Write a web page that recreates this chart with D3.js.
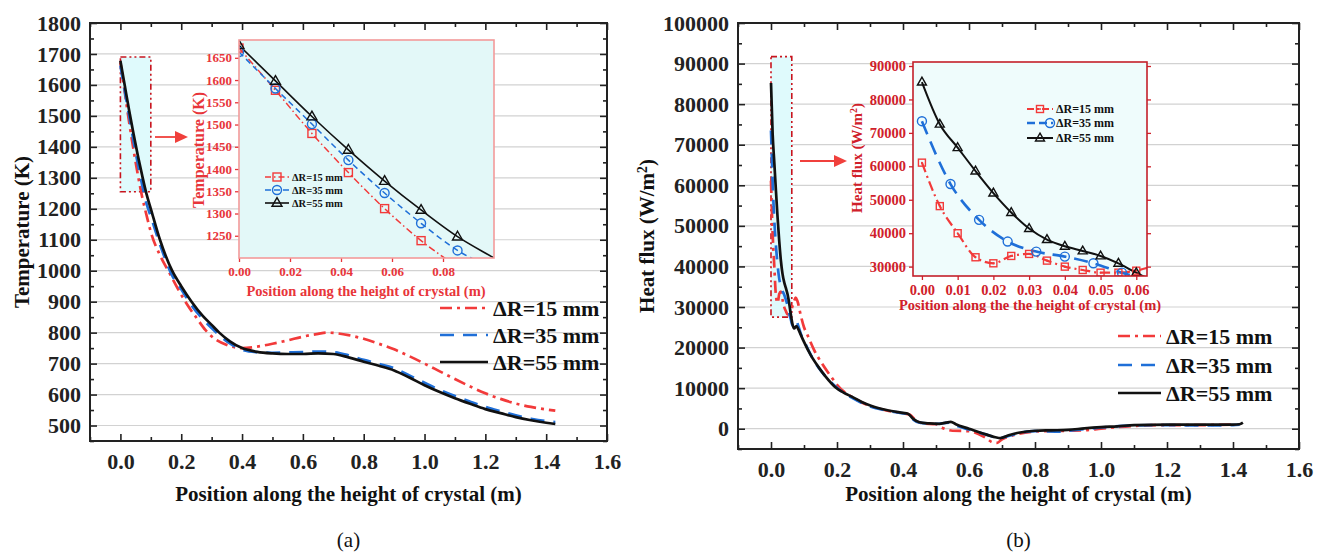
<!DOCTYPE html>
<html><head><meta charset="utf-8">
<script src="https://cdn.jsdelivr.net/npm/d3@7"></script>
<style>
body{margin:0;background:#fff;}
svg{display:block;}
svg text{font-family:'Liberation Serif','Times New Roman','DejaVu Serif',serif;}
</style></head><body>
<svg id="c" width="1324" height="553"></svg>
<script>
// ---------------- DATA ----------------
// (a) Temperature vs position
const seriesNames = ["ΔR=15 mm", "ΔR=35 mm", "ΔR=55 mm"];
const posT15 = [0,0.0143,0.0286,0.0429,0.0571,0.0714,0.0857,0.1,0.13,0.16,0.19,0.22,0.25,0.28,0.31,0.35,0.4,0.45,0.5,0.55,0.6,0.65,0.68,0.7,0.75,0.8,0.85,0.9,0.95,1.0,1.05,1.1,1.15,1.2,1.25,1.3,1.35,1.4,1.43];
const temp15 = [1672,1577,1480,1392,1311,1239,1180,1125,1050,995,940,890,848,808,780,760,750,755,764,775,787,796,800,799,792,780,764,746,724,700,675,650,626,604,586,571,560,552,548];
const posT35 = [0,0.0143,0.0286,0.0429,0.0571,0.0714,0.0857,0.1,0.13,0.17,0.2,0.234,0.27,0.3,0.325,0.36,0.4,0.45,0.5,0.55,0.6,0.65,0.7,0.75,0.8,0.85,0.9,0.95,1.0,1.05,1.1,1.15,1.2,1.25,1.3,1.35,1.4,1.43];
const temp35 = [1663,1581,1501,1420,1346,1278,1217,1175,1085,985,940,888,845,815,792,765,745,737,735,736,737,739,737,727,712,699,685,662,638,615,595,577,560,546,533,522,514,511];
const posT55 = [0,0.0143,0.0286,0.0429,0.0571,0.0714,0.0857,0.1,0.13,0.17,0.2,0.234,0.27,0.3,0.325,0.36,0.4,0.45,0.5,0.55,0.6,0.65,0.7,0.75,0.8,0.85,0.9,0.95,1.0,1.05,1.1,1.15,1.2,1.25,1.3,1.35,1.4,1.43];
const temp55 = [1678,1598,1518,1443,1373,1308,1248,1200,1100,1000,950,900,855,825,800,772,750,738,733,731,731,733,731,720,706,693,678,655,630,608,588,570,553,540,527,517,509,505];
const insetTMarkCount = [7,7,7];

// (b) Heat flux vs position
const posQ15 = [0,0.005,0.01,0.015,0.02,0.025,0.03,0.035,0.04,0.045,0.05,0.055,0.06,0.065,0.07,0.075,0.08,0.09,0.1,0.11,0.13,0.155,0.185,0.2,0.25,0.3,0.35,0.4,0.42,0.44,0.46,0.5,0.52,0.55,0.6,0.65,0.67,0.685,0.7,0.73,0.8,0.9,0.95,1.0,1.1,1.2,1.3,1.4];
const flux15 = [61100,48100,40000,32800,31000,33200,33800,31800,30000,29000,28200,28200,28800,30200,31500,32300,31500,28000,25000,23200,19500,16000,12500,10800,7600,5600,4500,3800,3500,2000,1300,1100,200,-500,-600,-2200,-3300,-3500,-2600,-1700,-700,-500,-400,0,700,900,900,1000];
const posQ35 = [0,0.008,0.016,0.024,0.032,0.04,0.048,0.056,0.06,0.065,0.07,0.076,0.082,0.09,0.1,0.12,0.14,0.16,0.18,0.2,0.25,0.3,0.35,0.4,0.415,0.43,0.45,0.5,0.54,0.56,0.6,0.65,0.69,0.72,0.75,0.8,0.88,0.9,0.95,1.0,1.1,1.2,1.3,1.4,1.42];
const flux35 = [73500,54700,44000,37500,34500,33000,31000,28200,27000,25500,25800,26800,25500,23500,21700,18300,15500,13400,11600,10100,7400,5500,4500,3800,3600,2300,1500,1200,1500,800,-200,-1400,-2300,-1800,-1100,-600,-700,-500,-100,300,800,900,800,900,1000];
const posQ55 = [0,0.005,0.01,0.015,0.02,0.025,0.03,0.035,0.04,0.045,0.05,0.055,0.06,0.065,0.07,0.077,0.083,0.09,0.1,0.12,0.143,0.165,0.194,0.22,0.245,0.275,0.305,0.35,0.4,0.415,0.43,0.45,0.48,0.51,0.53,0.545,0.56,0.6,0.64,0.68,0.695,0.72,0.75,0.8,0.85,0.9,0.95,1.0,1.05,1.1,1.2,1.3,1.4,1.42,1.43];
const flux55 = [85200,72600,65600,58600,52000,46200,41400,38100,36100,34700,33200,31000,28200,25800,24700,25300,24500,23200,21400,18200,15300,12900,10300,8900,7900,6600,5600,4600,3900,3700,2500,1600,1300,1200,1500,1700,1100,0,-1100,-2100,-2300,-1600,-1000,-500,-400,-300,100,400,600,900,1000,1000,1000,1100,1500];
const insetQMarkCount = [13,8,13];

// tick values
const mainXTicks = [0,0.2,0.4,0.6,0.8,1.0,1.2,1.4,1.6];
const mainXMinor = [-0.1,0.1,0.3,0.5,0.7,0.9,1.1,1.3,1.5];
const tempTicks = [500,600,700,800,900,1000,1100,1200,1300,1400,1500,1600,1700,1800];
const tempMinor = [450,550,650,750,850,950,1050,1150,1250,1350,1450,1550,1650,1750];
const fluxTicks = [0,10000,20000,30000,40000,50000,60000,70000,80000,90000,100000];
const fluxMinor = [-5000,5000,15000,25000,35000,45000,55000,65000,75000,85000,95000];
const insetTXTicks = [0,0.02,0.04,0.06,0.08];
const insetTYTicks = [1250,1300,1350,1400,1450,1500,1550,1600,1650];
const insetQXTicks = [0,0.01,0.02,0.03,0.04,0.05,0.06];
const insetQYTicks = [30000,40000,50000,60000,70000,80000,90000];

// ---------------- DRAW ----------------
const FONT = "'Liberation Serif','Times New Roman','DejaVu Serif',serif";
const svg = d3.select('#c');
const colors = ["#f23a3a", "#1f6fd8", "#111111"];
const mainDash = ["12,5,3,5", "14,9", null];

function zip(xs, ys){ return xs.map((x,i)=>({x:x, y:ys[i]})); }

function txt(sel){ return sel.style('font-family', FONT); }

function styleAxis(g, size, color, sw){
  g.attr('font-family', null);
  g.select('.domain').remove();
  g.selectAll('.tick line').attr('stroke', color).attr('stroke-width', sw);
  g.selectAll('.tick text').attr('fill', color).style('font-family', FONT)
    .style('font-weight','bold').style('font-size', size+'px');
}

function mainChart(cfg){
  const g = svg.append('g');
  const x = d3.scaleLinear().domain(cfg.xDom).range([cfg.px[0], cfg.px[1]]);
  const y = d3.scaleLinear().domain(cfg.yDom).range([cfg.py[1], cfg.py[0]]);
  const clipId = 'clip'+cfg.id;
  svg.append('defs').append('clipPath').attr('id', clipId).append('rect')
    .attr('x', cfg.px[0]).attr('y', cfg.py[0]).attr('width', cfg.px[1]-cfg.px[0]).attr('height', cfg.py[1]-cfg.py[0]);
  g.append('g').selectAll('line').data(cfg.yTicks).join('line')
    .attr('x1', cfg.px[0]).attr('x2', cfg.px[1]).attr('y1', d=>y(d)).attr('y2', d=>y(d))
    .attr('stroke', '#d2d2d2').attr('stroke-width', 1.2);
  const zb = cfg.zoomBox;
  g.append('rect').attr('x', x(zb.x[0])).attr('y', y(zb.y[1]))
    .attr('width', x(zb.x[1])-x(zb.x[0])).attr('height', y(zb.y[0])-y(zb.y[1]))
    .attr('fill', '#dffafc').attr('stroke', '#c8141e').attr('stroke-width', 1.6)
    .attr('stroke-dasharray', '6,3,2,3,2,3');
  const lg = g.append('g').attr('clip-path', `url(#${clipId})`);
  const line = d3.line().x(d=>x(d.x)).y(d=>y(d.y)).curve(d3.curveMonotoneX);
  cfg.series.forEach((s,i)=>{
    lg.append('path').datum(s).attr('d', line).attr('fill','none')
      .attr('stroke', colors[i]).attr('stroke-width', 2.7)
      .attr('stroke-dasharray', mainDash[i]);
  });
  const tc = '#222';
  const fx = d3.format('.1f');
  g.append('g').attr('transform', `translate(0,${cfg.py[1]})`)
    .call(d3.axisBottom(x).tickValues(cfg.xTicks).tickSize(-7).tickPadding(12).tickFormat(fx))
    .call(a=>styleAxis(a, 22, tc, 1.6));
  g.append('g').attr('transform', `translate(0,${cfg.py[1]})`)
    .call(d3.axisBottom(x).tickValues(cfg.xMinor).tickSize(-4).tickFormat(''))
    .call(a=>styleAxis(a, 22, tc, 1.6));
  g.append('g').attr('transform', `translate(0,${cfg.py[0]})`)
    .call(d3.axisTop(x).tickValues(cfg.xTicks).tickSize(-7).tickFormat(''))
    .call(a=>styleAxis(a, 22, tc, 1.6));
  g.append('g').attr('transform', `translate(0,${cfg.py[0]})`)
    .call(d3.axisTop(x).tickValues(cfg.xMinor).tickSize(-4).tickFormat(''))
    .call(a=>styleAxis(a, 22, tc, 1.6));
  g.append('g').attr('transform', `translate(${cfg.px[0]},0)`)
    .call(d3.axisLeft(y).tickValues(cfg.yTicks).tickSize(-7).tickPadding(9).tickFormat(d3.format('d')))
    .call(a=>styleAxis(a, 22, tc, 1.6));
  g.append('g').attr('transform', `translate(${cfg.px[0]},0)`)
    .call(d3.axisLeft(y).tickValues(cfg.yMinor).tickSize(-4).tickFormat(''))
    .call(a=>styleAxis(a, 22, tc, 1.6));
  g.append('g').attr('transform', `translate(${cfg.px[1]},0)`)
    .call(d3.axisRight(y).tickValues(cfg.yTicks).tickSize(-7).tickFormat(''))
    .call(a=>styleAxis(a, 22, tc, 1.6));
  g.append('g').attr('transform', `translate(${cfg.px[1]},0)`)
    .call(d3.axisRight(y).tickValues(cfg.yMinor).tickSize(-4).tickFormat(''))
    .call(a=>styleAxis(a, 22, tc, 1.6));
  g.append('rect').attr('x', cfg.px[0]).attr('y', cfg.py[0])
    .attr('width', cfg.px[1]-cfg.px[0]).attr('height', cfg.py[1]-cfg.py[0])
    .attr('fill','none').attr('stroke', '#222').attr('stroke-width', 2);
  txt(g.append('text')).attr('x', (cfg.px[0]+cfg.px[1])/2).attr('y', 494).attr('dy','0.35em')
    .attr('text-anchor','middle').style('font-weight','bold')
    .style('font-size','21px').attr('fill','#111').text('Position along the height of crystal (m)');
  const yt = txt(g.append('text')).attr('transform', `translate(${cfg.yTitleX},${(cfg.py[0]+cfg.py[1])/2}) rotate(-90)`)
    .attr('dy','0.35em').attr('text-anchor','middle').style('font-weight','bold')
    .style('font-size','21px').attr('fill','#111');
  cfg.yTitle(yt);
  txt(g.append('text')).attr('x', (cfg.px[0]+cfg.px[1])/2).attr('y', 540).attr('dy','0.35em')
    .attr('text-anchor','middle').style('font-size','21px').attr('fill','#111').text(cfg.caption);
  const ar = cfg.arrow;
  g.append('line').attr('x1', ar[0]).attr('x2', ar[1]-10).attr('y1', ar[2]).attr('y2', ar[2])
    .attr('stroke', '#f0403c').attr('stroke-width', 1.8);
  g.append('path').attr('d', `M${ar[1]},${ar[2]} L${ar[1]-13},${ar[2]-6} L${ar[1]-13},${ar[2]+6} Z`).attr('fill','#f0403c');
  const L = cfg.legend;
  seriesNames.forEach((n,i)=>{
    const yy = L.y[i];
    g.append('line').attr('x1', L.x1).attr('x2', L.x2).attr('y1', yy).attr('y2', yy)
      .attr('stroke', colors[i]).attr('stroke-width', 2.7).attr('stroke-dasharray', mainDash[i]);
    txt(g.append('text')).attr('x', L.tx).attr('y', yy).attr('dy','0.35em')
      .style('font-weight','bold').style('font-size','22px').attr('fill','#111').text(n);
  });
  return {x,y};
}

function marker(g, type, cx, cy, col, sz, sw){
  if(type==='square'){
    g.append('rect').attr('x', cx-sz/2).attr('y', cy-sz/2).attr('width', sz).attr('height', sz)
      .attr('fill','none').attr('stroke', col).attr('stroke-width', sw);
  } else if(type==='dsquare'){
    g.append('rect').attr('x', cx-sz/2).attr('y', cy-sz/2).attr('width', sz).attr('height', sz)
      .attr('fill','none').attr('stroke', col).attr('stroke-width', sw);
    g.append('circle').attr('cx',cx).attr('cy',cy).attr('r',1).attr('fill',col);
  } else if(type==='circle'){
    g.append('circle').attr('cx',cx).attr('cy',cy).attr('r', sz/2).attr('fill','none')
      .attr('stroke', col).attr('stroke-width', sw);
  } else {
    const h = sz*0.87;
    g.append('path').attr('d', `M${cx},${cy-h*0.62} L${cx+sz/2},${cy+h*0.38} L${cx-sz/2},${cy+h*0.38} Z`)
      .attr('fill','none').attr('stroke', col).attr('stroke-width', sw);
  }
}

function inset(cfg){
  const g = svg.append('g');
  const x = d3.scaleLinear().domain(cfg.xDom).range([cfg.px[0], cfg.px[1]]);
  const y = d3.scaleLinear().domain(cfg.yDom).range([cfg.py[1], cfg.py[0]]);
  const clipId = 'clip'+cfg.id;
  svg.append('defs').append('clipPath').attr('id', clipId).append('rect')
    .attr('x', cfg.px[0]).attr('y', cfg.py[0]).attr('width', cfg.px[1]-cfg.px[0]).attr('height', cfg.py[1]-cfg.py[0]);
  g.append('rect').attr('x', cfg.px[0]).attr('y', cfg.py[0])
    .attr('width', cfg.px[1]-cfg.px[0]).attr('height', cfg.py[1]-cfg.py[0])
    .attr('fill', cfg.bg);
  const lg = g.append('g').attr('clip-path', `url(#${clipId})`);
  const line = d3.line().x(d=>x(d.x)).y(d=>y(d.y)).curve(d3.curveMonotoneX);
  cfg.series.forEach((s,i)=>{
    lg.append('path').datum(s).attr('d', line).attr('fill','none')
      .attr('stroke', colors[i]).attr('stroke-width', cfg.lw[i]).attr('stroke-dasharray', cfg.dash[i]);
  });
  const mg = g.append('g').attr('clip-path', `url(#${clipId})`);
  cfg.series.forEach((s,i)=>{
    s.slice(0, cfg.markCount[i]).forEach(d=>{
      marker(mg, cfg.markers[i], x(d.x), y(d.y), colors[i], cfg.msz[i], 1.4);
    });
  });
  const tc = cfg.textColor;
  g.append('g').attr('transform', `translate(0,${cfg.py[1]})`)
    .call(d3.axisBottom(x).tickValues(cfg.xTicks).tickSize(4).tickPadding(5).tickFormat(d3.format(cfg.xFmt)))
    .call(a=>styleAxis(a, cfg.tickSize, tc, 1.3));
  g.append('g').attr('transform', `translate(${cfg.px[0]},0)`)
    .call(d3.axisLeft(y).tickValues(cfg.yTicks).tickSize(4).tickPadding(3).tickFormat(d3.format('d')))
    .call(a=>styleAxis(a, cfg.tickSize, tc, 1.3));
  if(cfg.rightTicks){
    g.append('g').attr('transform', `translate(${cfg.px[1]},0)`)
      .call(d3.axisRight(y).tickValues(cfg.yTicks).tickSize(4).tickFormat(''))
      .call(a=>styleAxis(a, cfg.tickSize, tc, 1.3));
  }
  g.append('rect').attr('x', cfg.px[0]).attr('y', cfg.py[0])
    .attr('width', cfg.px[1]-cfg.px[0]).attr('height', cfg.py[1]-cfg.py[0])
    .attr('fill','none').attr('stroke', cfg.frame).attr('stroke-width', 1.6);
  txt(g.append('text')).attr('x', cfg.xTitlePos[0]).attr('y', cfg.xTitlePos[1]).attr('dy','0.35em')
    .attr('text-anchor','middle').style('font-weight','bold')
    .style('font-size', cfg.xTitleSize+'px').attr('fill', tc).text(cfg.xTitle);
  const yt = txt(g.append('text')).attr('transform', `translate(${cfg.yTitlePos[0]},${cfg.yTitlePos[1]}) rotate(-90)`)
    .attr('dy','0.35em').attr('text-anchor','middle').style('font-weight','bold')
    .style('font-size', cfg.yTitleSize+'px').attr('fill', tc);
  cfg.yTitle(yt);
  const L = cfg.legend;
  seriesNames.forEach((n,i)=>{
    const yy = L.y[i];
    g.append('line').attr('x1', L.x1).attr('x2', L.x2).attr('y1', yy).attr('y2', yy)
      .attr('stroke', colors[i]).attr('stroke-width', cfg.lw[i]).attr('stroke-dasharray', cfg.legDash[i]);
    marker(g, cfg.markers[i], L.mx[i], yy, colors[i], cfg.msz[i], 1.4);
    txt(g.append('text')).attr('x', L.tx).attr('y', yy).attr('dy','0.35em')
      .style('font-weight','bold').style('font-size', L.size+'px').attr('fill','#111').text(n);
  });
}

function fluxTitle(t){
  t.append('tspan').text('Heat flux (W/m');
  t.append('tspan').attr('baseline-shift','super').style('font-size','65%').text('2');
  t.append('tspan').text(')');
}

const tSeries = [zip(posT15,temp15), zip(posT35,temp35), zip(posT55,temp55)];
const qSeries = [zip(posQ15,flux15), zip(posQ35,flux35), zip(posQ55,flux55)];

mainChart({
  id:'a', px:[90,607], py:[23,441], xDom:[-0.1,1.6], yDom:[450,1800],
  xTicks:mainXTicks, xMinor:mainXMinor, yTicks:tempTicks, yMinor:tempMinor,
  series:tSeries, zoomBox:{x:[0,0.1], y:[1255,1690]}, arrow:[155,188,137],
  legend:{x1:440, x2:488, tx:493, y:[308,335,362]},
  yTitleX:22, yTitle:t=>t.text('Temperature (K)'), caption:'(a)'
});
mainChart({
  id:'b', px:[738,1299], py:[23,449], xDom:[-0.1,1.6], yDom:[-5000,100000],
  xTicks:mainXTicks, xMinor:mainXMinor, yTicks:fluxTicks, yMinor:fluxMinor,
  series:qSeries, zoomBox:{x:[0,0.063], y:[27500,91700]}, arrow:[800,847,161],
  legend:{x1:1118, x2:1161, tx:1166, y:[336,365,393]},
  yTitleX:647, yTitle:fluxTitle, caption:'(b)'
});

inset({
  id:'ia', px:[239,494], py:[40,258], xDom:[0,0.1], yDom:[1200,1690],
  bg:'#e3f8f8', frame:'#f39a9a', textColor:'#e8353a', series:tSeries,
  lw:[1.5,1.5,1.6], dash:["7,3,1.5,3","6,4",null], legDash:["6,3,1.5,3","6,3",null],
  markers:['square','circle','triangle'], msz:[8,9,10], markCount:insetTMarkCount,
  xTicks:insetTXTicks, yTicks:insetTYTicks, xFmt:'.2f', tickSize:13,
  xTitle:'Position along the height of crystal (m)', xTitlePos:[366,291], xTitleSize:14.5,
  yTitle:t=>t.text('Temperature (K)'), yTitlePos:[198,150], yTitleSize:16,
  legend:{x1:265, x2:289, mx:[277,277,277], tx:292, y:[177,190,203], size:10.5}
});
inset({
  id:'ib', px:[913,1147], py:[62,276], xDom:[-0.0025,0.063], yDom:[27200,91200],
  bg:'#effcfc', frame:'#c4202a', textColor:'#d0202a', series:qSeries, rightTicks:true,
  lw:[2.2,2.6,2], dash:["10,4,2,4","14,8",null], legDash:["7,3,2,3","8,4",null],
  markers:['dsquare','circle','triangle'], msz:[7,9,9], markCount:insetQMarkCount,
  xTicks:insetQXTicks, yTicks:insetQYTicks, xFmt:'.2f', tickSize:14.5,
  xTitle:'Position along the the height of crystal (m)', xTitlePos:[1030,305], xTitleSize:14.5,
  yTitle:fluxTitle, yTitlePos:[857,158], yTitleSize:15,
  legend:{x1:1027, x2:1053, mx:[1040,1050,1040], tx:1056, y:[109,123,138], size:12}
});
</script>
</body></html>
